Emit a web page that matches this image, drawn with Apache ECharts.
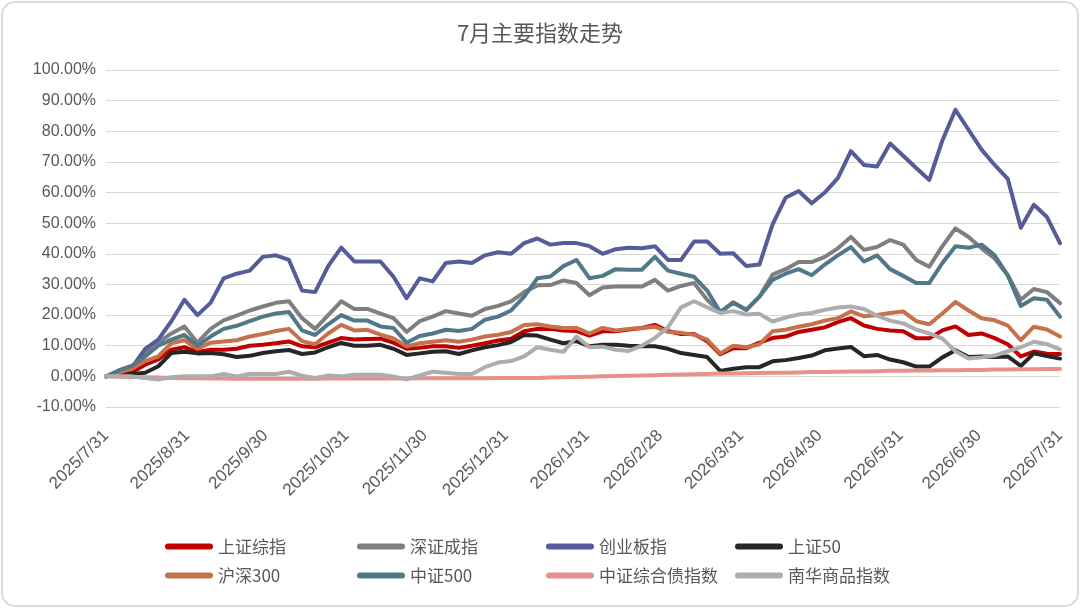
<!DOCTYPE html>
<html>
<head>
<meta charset="utf-8">
<title>7月主要指数走势</title>
<script src="https://cdn.jsdelivr.net/npm/echarts@6/dist/echarts.min.js"></script>
<style>
    html, body {margin: 0; padding: 0; background: #fff;}
    #frame {position: absolute; left: 1px; top: 1px; width: 1074px; height: 602px;
        border: 2px solid #dcdcdc; border-radius: 14px;}
    #main {position: absolute; left: 0; top: 0; width: 1080px; height: 608px;}
</style>
</head>
<body>
<div id="frame"></div>
<div id="main"></div>
<script>
// 采样日期（约每5天一个点）
var dates = ['2025-07-31', '2025-08-05', '2025-08-10', '2025-08-15', '2025-08-20', '2025-08-25', '2025-08-30',
    '2025-09-04', '2025-09-09', '2025-09-14', '2025-09-19', '2025-09-24', '2025-09-29', '2025-10-04',
    '2025-10-09', '2025-10-14', '2025-10-19', '2025-10-24', '2025-10-29', '2025-11-03', '2025-11-08',
    '2025-11-13', '2025-11-18', '2025-11-23', '2025-11-28', '2025-12-03', '2025-12-08', '2025-12-13',
    '2025-12-18', '2025-12-23', '2025-12-28', '2026-01-02', '2026-01-07', '2026-01-12', '2026-01-17',
    '2026-01-22', '2026-01-27', '2026-02-01', '2026-02-06', '2026-02-11', '2026-02-16', '2026-02-21',
    '2026-02-26', '2026-03-03', '2026-03-08', '2026-03-13', '2026-03-18', '2026-03-23', '2026-03-28',
    '2026-04-02', '2026-04-07', '2026-04-12', '2026-04-17', '2026-04-22', '2026-04-27', '2026-05-02',
    '2026-05-07', '2026-05-12', '2026-05-17', '2026-05-22', '2026-05-27', '2026-06-01', '2026-06-06',
    '2026-06-11', '2026-06-16', '2026-06-21', '2026-06-26', '2026-07-01', '2026-07-06', '2026-07-11',
    '2026-07-16', '2026-07-21', '2026-07-26', '2026-07-31'];

// 横轴刻度（月末）
var monthEnds = ['2025-07-31', '2025-08-31', '2025-09-30', '2025-10-31', '2025-11-30', '2025-12-31',
    '2026-01-31', '2026-02-28', '2026-03-31', '2026-04-30', '2026-05-31', '2026-06-30', '2026-07-31'];

// 累计涨跌幅（%）
var szzz = [0, 0.8, 1.3, 3.8, 5.5, 8.7, 9.5, 8, 8.7, 8.7, 9, 10, 10.3, 10.8, 11.4, 9.8, 9.5, 11, 12.5, 12,
    12.2, 12.3, 11, 9, 9.3, 9.8, 9.8, 9.3, 10, 10.8, 11.7, 12.3, 14.7, 15.5,
    15.5, 15, 14.8, 13.3, 14.7, 14.7, 15.3, 15.8, 16.8, 14.8, 13.8, 13.8, 11.5, 7.2, 9.2, 9.2, 11, 12.5,
    13, 14.5, 15.2, 16, 17.7, 19, 16.6, 15.5, 15, 14.7, 12.4, 12.4, 15, 16.3, 13.5, 14, 12.5, 10.5, 6.5,
    8.1, 7.4, 7.3];
var szcz = [0, 1.5, 3, 7.6, 11, 14, 16.3, 11, 15.5, 18.3, 19.8, 21.5, 22.8, 24, 24.5, 19, 15.5, 20, 24.5,
    22, 22, 20.5, 19, 14.5, 18, 19.5, 21.3, 20.5, 19.8, 22, 23, 24.5, 27.5, 29.7,
    29.8, 31.3, 30.5, 26.5, 29, 29.3, 29.3, 29.3, 31.5, 28, 29.5, 30.5, 25, 21, 24.2, 21.7, 26, 33.2, 35,
    37.3, 37.3, 39, 41.8, 45.5, 41.3, 42.2, 44.5, 43, 38, 35.8, 42.5, 48.3, 45.5, 41.8, 38.5, 33, 25,
    28.5, 27.5, 23.9];
var cybz = [0, 1, 3, 9, 12, 18, 25, 20, 24, 32, 33.5, 34.5, 39, 39.5, 38, 28, 27.5, 36, 42, 37.5, 37.5,
    37.5, 32.5, 25.5, 32, 31, 37, 37.5, 37, 39.5, 40.5, 40, 43.5, 45,
    43, 43.5, 43.5, 42.5, 40, 41.5, 42, 41.8, 42.5, 38, 38, 44, 44, 40, 40.2, 36, 36.5, 49.5, 58.3, 60.5,
    56.5, 60, 64.7, 73.5, 69, 68.5, 76, 72, 68, 64.1, 77, 87, 80.5, 74, 69, 64.5, 48.5, 56, 52, 43.5];
var sz50 = [0, 0.3, 0.8, 1.2, 3.3, 7.6, 8, 7.5, 7.6, 7.2, 6.3, 6.7, 7.6, 8.2, 8.6, 7.3, 7.8, 9.5, 10.9, 10,
    10, 10.3, 9, 7, 7.5, 8, 8.2, 7.3, 8.5, 9.5, 10.2, 11.2, 13.5, 13.3,
    12, 10.8, 11.5, 9.8, 10.3, 10.3, 10, 9.8, 9.8, 9, 7.6, 7, 6.3, 1.8, 2.5, 3, 3, 4.9, 5.3, 6, 6.8, 8.5,
    9.1, 9.6, 6.6, 7, 5.5, 4.6, 3.2, 3.2, 6.2, 8.5, 6.3, 6.5, 6.3, 6.5, 3.4, 7.5, 6.6, 5.8];
var hs300 = [0, 1.2, 2.5, 5, 6.5, 10.8, 11.8, 9, 11, 11.4, 11.8, 13, 13.8, 14.8, 15.5, 11.5, 10.5, 14, 16.8,
    15, 15.2, 13.6, 12.4, 9.8, 10.8, 11.3, 11.8, 11.3, 12, 13, 13.6, 14.5, 16.8, 17,
    16.3, 15.8, 15.8, 14, 15.8, 15, 15.5, 15.8, 16.2, 14.5, 14.2, 13.6, 12, 7.5, 10, 9.5, 10.5, 14.7, 15.2,
    16.2, 17, 18.2, 19, 21.2, 19.6, 20, 20.7, 21.2, 18, 17, 20.5, 24.3, 21.5, 19, 18.3, 16.6, 11.8, 16.2,
    15.3, 13];
var zz500 = [0, 2, 3.5, 6.5, 10, 12, 13.5, 10, 13, 15.5, 16.5, 18, 19.5, 20.5, 21, 15, 13.5, 17, 20, 18.2,
    18.2, 16.3, 15.8, 11, 13.2, 14, 15.2, 14.8, 15.5, 18.5, 19.5, 21.5, 26, 32,
    32.6, 36, 38, 32, 32.8, 35, 34.8, 34.8, 39, 34.5, 33.5, 32.5, 28, 21, 24, 21.7, 26, 31.5, 33.5, 35,
    33, 36.5, 39.5, 42.2, 37.5, 39.5, 35, 32.8, 30.5, 30.5, 37, 42.5, 42, 43, 39.5, 33, 23, 25.5, 25, 19.5];
var zzzhz = [0, -0.1, -0.2, -0.3, -0.4, -0.5, -0.6, -0.6, -0.7, -0.7, -0.8, -0.8, -0.8, -0.8, -0.8, -0.8,
    -0.8, -0.7, -0.7, -0.7, -0.7, -0.7, -0.7, -0.7, -0.6, -0.6, -0.6, -0.6, -0.6, -0.6, -0.5, -0.5, -0.5, -0.5,
    -0.4, -0.3, -0.2, -0.1, 0, 0.1, 0.2, 0.3, 0.4, 0.5, 0.6, 0.7, 0.8, 0.9, 0.9, 1.0, 1.1, 1.2, 1.2, 1.3,
    1.4, 1.4, 1.5, 1.6, 1.6, 1.7, 1.8, 1.8, 1.9, 1.9, 2.0, 2.0, 2.1, 2.1, 2.2, 2.2, 2.3, 2.3, 2.4, 2.4];
var nhsp = [0, 0, 0, -0.5, -1, -0.3, 0, 0, 0, 0.8, 0, 0.8, 0.8, 0.8, 1.5, 0.2, -0.5, 0.3, 0, 0.5, 0.5, 0.5,
    0, -1, 0.3, 1.5, 1.2, 0.8, 0.8, 3, 4.5, 5, 6.5, 9.5,
    8.7, 8, 13, 9.5, 9.7, 8.7, 8.3, 10, 12.5, 16, 22.5, 24.5, 22.5, 20.7, 21.3, 20.2, 20.4, 17.9, 19.2,
    20.2, 20.7, 21.7, 22.5, 22.8, 22, 19.8, 18.2, 17.3, 15.3, 14, 12.3, 8.2, 5.8, 6.2, 6.8, 8.2, 9.5, 11.3,
    10.5, 8.8];

var names = ['上证综指', '深证成指', '创业板指', '上证50', '沪深300', '中证500', '中证综合债指数', '南华商品指数'];
var colors = ['#C00000', '#7F7F7F', '#545D99', '#262626', '#C5714A', '#507888', '#E8908E', '#ADADAD'];
var values = [szzz, szcz, cybz, sz50, hs300, zz500, zzzhz, nhsp];

var textColor = '#595959';
var cjkFont = '"Noto Sans CJK SC", "Noto Sans", sans-serif';

// 'YYYY-MM-DD' 转本地时间戳
function toTime(s) {
    var p = s.split('-');
    return new Date(+p[0], +p[1] - 1, +p[2]).getTime();
}

function fmtDate(val) {
    var d = new Date(val);
    return d.getFullYear() + '/' + (d.getMonth() + 1) + '/' + d.getDate();
}

var tickValues = monthEnds.map(toTime);

var series = [];
var legends = [];
// 图例按两行四列摆放
var legendLeft = [165, 357, 546, 735];
var legendTop = [538, 567];
for (var i = 0; i < names.length; i++) {
    var data = [];
    for (var j = 0; j < dates.length; j++) {
        data.push([toTime(dates[j]), values[i][j]]);
    }
    series.push({
        name: names[i],
        type: 'line',
        data: data,
        showSymbol: false,
        symbol: 'none',
        color: colors[i],
        lineStyle: {width: 4, color: colors[i], cap: 'round', join: 'round'},
        emphasis: {disabled: true}
    });
    legends.push({
        data: [names[i]],
        left: legendLeft[i % 4],
        top: legendTop[Math.floor(i / 4)],
        padding: 0,
        icon: 'path://M3,0L45,0A3,3,0,0,1,45,6L3,6A3,3,0,0,1,3,0Z',
        itemWidth: 48,
        itemHeight: 6,
        itemGap: 0,
        textStyle: {color: textColor, fontSize: 17, fontFamily: cjkFont}
    });
}

var chart = echarts.init(document.getElementById('main'), null, {renderer: 'canvas'});
chart.setOption({
    animation: false,
    backgroundColor: 'transparent',
    title: {
        text: '7月主要指数走势',
        left: 'center',
        top: 17,
        textStyle: {color: textColor, fontSize: 22, fontWeight: 'normal', fontFamily: cjkFont}
    },
    legend: legends,
    grid: {left: 106, right: 20, top: 70, bottom: 201, containLabel: false},
    xAxis: {
        type: 'value',
        min: tickValues[0],
        max: tickValues[tickValues.length - 1],
        axisLine: {show: false},
        axisTick: {show: false, customValues: tickValues},
        splitLine: {show: false},
        axisLabel: {
            customValues: tickValues,
            rotate: 45,
            margin: 26,
            color: textColor,
            fontSize: 17,
            fontFamily: '"Liberation Sans", Arial, sans-serif',
            formatter: fmtDate
        }
    },
    yAxis: {
        type: 'value',
        min: -10,
        max: 100,
        interval: 10,
        axisLine: {show: false},
        axisTick: {show: false},
        splitLine: {lineStyle: {color: '#d9d9d9', width: 1}},
        axisLabel: {
            color: textColor,
            fontSize: 16,
            margin: 10,
            fontFamily: '"Liberation Sans", Arial, sans-serif',
            formatter: function (v) {
                return v.toFixed(2) + '%';
            }
        }
    },
    series: series
});
</script>
</body>
</html>
